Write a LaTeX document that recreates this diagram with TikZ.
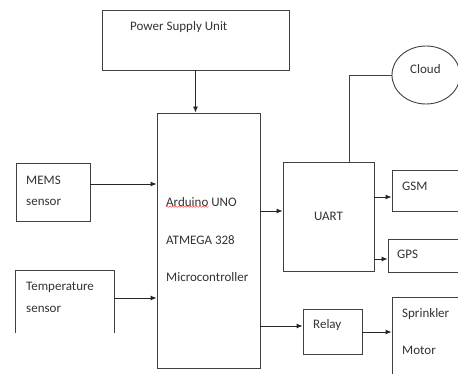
\documentclass[tikz,border=0pt]{standalone}
\usepackage{fontspec}
\setmainfont{Carlito}
\usetikzlibrary{arrows.meta,shapes.geometric,decorations.pathmorphing}

\tikzset{
  blockbox/.style={draw=black!75, line width=0.9pt, inner sep=0pt},
  openbox/.style={inner sep=0pt},
  txt/.style={anchor=west, inner sep=0pt, font=\fontsize{13}{15}\selectfont, text=black!80},
  arr/.style={-{Latex[length=6pt,width=5pt]}, draw=black!85, line width=0.9pt},
  lnk/.style={draw=black!75, line width=0.9pt}
}

\begin{document}
\begin{tikzpicture}[x=1pt,y=-1pt]
  \useasboundingbox[fill=white] (0,0) rectangle (458,374);

  % blocks
  \node[blockbox, minimum width=187pt, minimum height=60pt] (psu) at (195.5,40) {};
  \node[blockbox, minimum width=103pt, minimum height=255pt] (ardu) at (208.5,240.5) {};
  \node[blockbox, minimum width=74pt, minimum height=58pt] (mems) at (53,192) {};
  \node[openbox, minimum width=98pt, minimum height=62pt] (temp) at (65,302) {};
  \node[blockbox, minimum width=91pt, minimum height=109pt] (uart) at (328.5,216.5) {};
  \node[blockbox, ellipse, minimum width=68pt, minimum height=58pt] (cloud) at (426,75) {};
  \node[blockbox, minimum width=72pt, minimum height=41pt] (gsm) at (428,190.5) {};
  \node[blockbox, minimum width=76pt, minimum height=33pt] (gps) at (426,255.5) {};
  \node[blockbox, minimum width=59pt, minimum height=45pt] (relay) at (332.5,331.5) {};
  \node[blockbox, minimum width=72pt, minimum height=83pt] (spr) at (428,338.5) {};

  % temperature box is open at the bottom
  \draw[lnk] (temp.south west) -- (temp.north west) -- (temp.north east) -- (temp.south east);

  % labels
  \node[txt] (psulbl) at (130,27) {Power Supply Unit};
  \node[txt] (memslbl) at (26,180) {MEMS};
  \node[txt] (memslblb) at (26,202) {sensor};
  \node[txt] (templbl) at (26,287) {Temperature};
  \node[txt] (templblb) at (26,309) {sensor};
  \node[txt] (ardulbl) at (166,202) {Arduino UNO};
  \node[txt] (ardulblb) at (166,240) {ATMEGA 328};
  \node[txt] (ardulblc) at (166,277) {Microcontroller};
  \node[txt, anchor=center] (uartlbl) at (uart) {UART};
  \node[txt] (cloudlbl) at (410,69) {Cloud};
  \node[txt] (gsmlbl) at (402,186) {GSM};
  \node[txt] (gpslbl) at (397,254) {GPS};
  \node[txt] (relaylbl) at (313,325) {Relay};
  \node[txt] (sprlbl) at (402,314) {Sprinkler};
  \node[txt] (sprlblb) at (402,350) {Motor};

  % spell-check squiggle under Arduino
  \draw[red!80, line width=0.4pt, decorate, decoration={snake, amplitude=0.6pt, segment length=3pt}]
    (ardulbl.south west) -- ++(43,0);

  % connectors
  \draw[arr] (psu.south) -- (psu.south |- ardu.north);
  \draw[arr] (mems.east |- 0,184) -- (ardu.west |- 0,184);
  \draw[arr] (temp.east |- 0,298) -- (ardu.west |- 0,298);
  \draw[arr] (ardu.east |- 0,211) -- (uart.west |- 0,211);
  \draw[arr] (ardu.east |- 0,326) -- (relay.west |- 0,326);
  \draw[arr] (uart.east |- 0,197) -- (gsm.west |- 0,197);
  \draw[arr] (uart.east |- 0,259) -- (gps.west |- 0,259);
  \draw[arr] (relay.east |- 0,332) -- (spr.west |- 0,332);
  \draw[lnk] (uart.north -| 349,0) |- (cloud.west);
\end{tikzpicture}
\end{document}
